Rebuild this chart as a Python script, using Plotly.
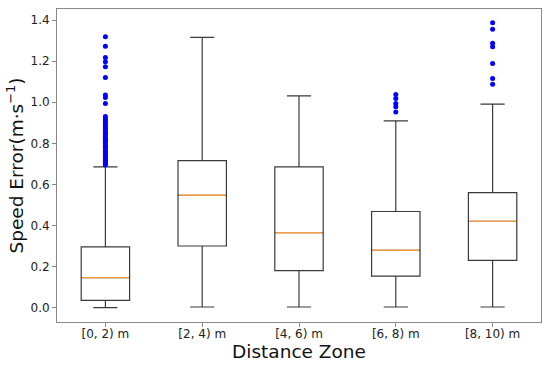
import plotly.graph_objects as go

zones = ["[0, 2) m", "[2, 4) m", "[4, 6) m", "[6, 8) m", "[8, 10) m"]
lower = [0.000, 0.003, 0.003, 0.003, 0.003]
q1 = [0.035, 0.300, 0.180, 0.153, 0.230]
median = [0.146, 0.547, 0.365, 0.279, 0.420]
q3 = [0.296, 0.716, 0.685, 0.468, 0.560]
upper = [0.685, 1.316, 1.031, 0.909, 0.991]

outliers_0 = [0.695, 0.70, 0.705, 0.71, 0.715, 0.72, 0.73, 0.735, 0.74, 0.75, 0.755,
              0.76, 0.77, 0.78, 0.785, 0.79, 0.80, 0.81, 0.815, 0.82, 0.83, 0.84,
              0.845, 0.85, 0.86, 0.87, 0.875, 0.88, 0.89, 0.90, 0.91, 0.92, 0.93,
              0.994, 1.023, 1.035, 1.121, 1.173, 1.197, 1.218, 1.273, 1.319]
outliers_1 = []
outliers_2 = []
outliers_3 = [0.953, 0.978, 0.994, 1.018, 1.038]
outliers_4 = [1.087, 1.116, 1.189, 1.270, 1.287, 1.356, 1.387]
outliers = [outliers_0, outliers_1, outliers_2, outliers_3, outliers_4]

fig = go.Figure()
fig.add_trace(go.Box(
    x=zones, q1=q1, median=median, q3=q3, lowerfence=lower, upperfence=upper,
    fillcolor="rgba(0,0,0,0)", line=dict(color="#3a3a3a", width=1.2),
    width=0.5, whiskerwidth=0.5, boxpoints=False, showlegend=False, hoverinfo="skip"))
# orange median lines
fig.add_trace(go.Box(
    x=zones, q1=median, median=median, q3=median, lowerfence=median, upperfence=median,
    fillcolor="rgba(0,0,0,0)", line=dict(color="#ffa040", width=0.8),
    width=0.48, whiskerwidth=0, boxpoints=False, showlegend=False, hoverinfo="skip"))

ox, oy = [], []
for z, vals in zip(zones, outliers):
    for v in vals:
        ox.append(z)
        oy.append(v)
fig.add_trace(go.Scatter(x=ox, y=oy, mode="markers",
                         marker=dict(color="#0000ff", size=5), showlegend=False))

axis_line = "#888888"
fig.update_layout(
    width=550, height=367,
    margin=dict(l=57, r=9, t=9, b=45),
    paper_bgcolor="white", plot_bgcolor="white",
    font=dict(family="DejaVu Sans", color="#222222"),
    boxmode="overlay",
    xaxis=dict(
        type="category", range=[-0.5, 4.5], automargin=False,
        showline=True, mirror=True, linecolor=axis_line, linewidth=1,
        ticks="outside", ticklen=4, tickcolor=axis_line, ticklabelstandoff=-3,
        tickfont=dict(size=12, family="DejaVu Sans", color="#222"),
        showgrid=False, zeroline=False,
        title=dict(text="Distance Zone", font=dict(size=18.5, family="DejaVu Sans", color="#111"), standoff=0),
    ),
    yaxis=dict(
        range=[-0.070, 1.454], automargin=False,
        tickvals=[0.0, 0.2, 0.4, 0.6, 0.8, 1.0, 1.2, 1.4],
        ticktext=["0.0", "0.2", "0.4", "0.6", "0.8", "1.0", "1.2", "1.4"],
        showline=True, mirror=True, linecolor=axis_line, linewidth=1,
        ticks="outside", ticklen=4, tickcolor=axis_line,
        tickfont=dict(size=12, family="DejaVu Sans", color="#222"),
        showgrid=False, zeroline=False,
        title=dict(text="Speed Error(m·s<sup>−1</sup>)", font=dict(size=18.5, family="DejaVu Sans", color="#111"), standoff=2),
    ),
)

fig.write_html("out.html", config={"displayModeBar": False},
               post_script="document.body.style.margin='0';document.body.style.overflow='hidden';")
